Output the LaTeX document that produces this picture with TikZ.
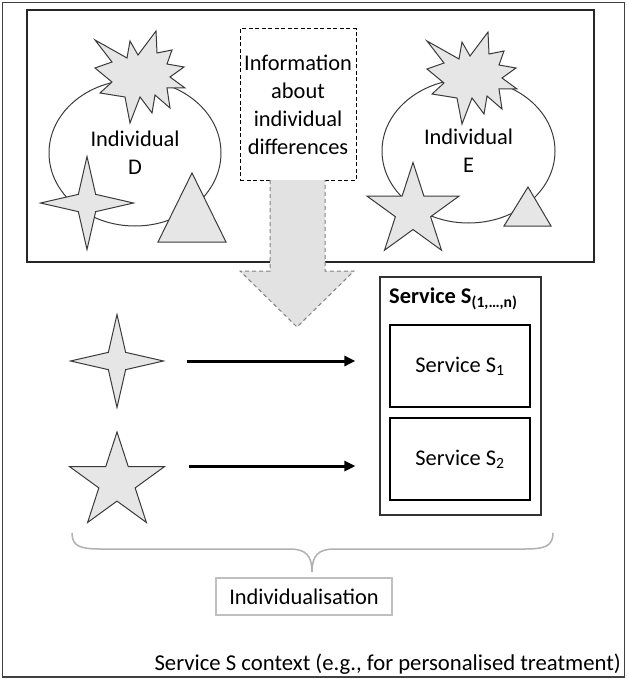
\documentclass[tikz,border=0pt]{standalone}
\usepackage{fontspec}
\setmainfont{Carlito}
\usetikzlibrary{shapes.geometric,arrows.meta}
\definecolor{shapefill}{HTML}{E6E6E6}
\definecolor{edgegray}{HTML}{3A3A3A}
\definecolor{bracegray}{HTML}{B0B0B0}
\definecolor{arrowfill}{HTML}{E2E2E2}
\definecolor{arrowedge}{HTML}{808080}
\begin{document}
\begin{tikzpicture}[x=1pt,y=-1pt,
  txt/.style={font=\fontsize{22.4}{28}\selectfont, inner sep=0pt, align=center},
  blob/.style={fill=shapefill, draw=edgegray, line width=1pt, line join=miter},
  starfour/.style={blob, star, star points=4, star point ratio=3.8, inner sep=0pt},
  starfive/.style={blob, star, star points=5, star point ratio=2.618, inner sep=0pt},
  person/.style={ellipse, draw=edgegray, line width=1pt, inner sep=0pt, txt},
  plainbox/.style={draw=black, line width=1.2pt, inner sep=0pt},
  thickarrow/.style={line width=3pt, -{Triangle[length=11pt,width=10pt]}}
]
\useasboundingbox (0,0) rectangle (627,679);
% outer frame
\draw[black!75, line width=1.5pt] (2.5,2.5) rectangle (624.5,677);
% top box
\node[draw=black!85, line width=1.3pt, minimum width=567pt, minimum height=252pt, inner sep=0pt] (topbox) at (310.5,136) {};

% individual D
\node[person, minimum width=172pt, minimum height=146pt] (indD) at (135,153) {Individual\\D};
\draw[blob] (95,40) -- (127,58) -- (130,41) -- (138,55) -- (156,31) -- (157,53) -- (172,50) -- (167,64)
  -- (184,67) -- (170,77) -- (185,88) -- (167,88) -- (170,108) -- (155,95) -- (152,113) -- (140,97)
  -- (130,123) -- (125,97) -- (100,93) -- (112,82) -- (95,68) -- (112,62) -- cycle;
\draw[blob] (192,173) -- (226,242) -- (158,242) -- cycle;
\node[starfour, minimum size=93pt] (s4a) at (87,203) {};

% individual E
\node[person, minimum width=173pt, minimum height=144pt] (indE) at (468.5,151) {Individual\\E};
\begin{scope}[shift={(332,1)}]
\draw[blob] (95,40) -- (127,58) -- (130,41) -- (138,55) -- (156,31) -- (157,53) -- (172,50) -- (167,64)
  -- (184,67) -- (170,77) -- (185,88) -- (167,88) -- (170,108) -- (155,95) -- (152,113) -- (140,97)
  -- (130,123) -- (125,97) -- (100,93) -- (112,82) -- (95,68) -- (112,62) -- cycle;
\end{scope}
\draw[blob] (528,187) -- (551,226) -- (504,226) -- cycle;
\node[starfive, minimum size=97pt] (s5a) at (413,211) {};

% information box
\node[draw=black, dashed, dash pattern=on 4pt off 2.5pt, line width=1pt, minimum width=116pt, minimum height=151pt, txt] (info) at (298,104.5) {Information\\about\\individual\\differences};

% block arrow
\fill[arrowfill] (270,180) -- (270,271) -- (240,271) -- (297,327) -- (354,271) -- (325,271) -- (325,180) -- cycle;
\draw[arrowedge, line width=1pt, dash pattern=on 4pt off 3pt] (270,180) -- (270,271) -- (240,271) -- (297,327) -- (354,271) -- (325,271) -- (325,180);

% service boxes
\node[draw=black!80, line width=1.2pt, minimum width=161pt, minimum height=238pt, inner sep=0pt] (svc) at (460.5,396) {};
\node[txt, anchor=west, font=\fontsize{22.4}{28}\selectfont\bfseries] (svct) at (389,299) {Service S\textsubscript{(1,…,n)}};
\node[plainbox, minimum width=140pt, minimum height=82pt, txt] (sv1) at (460,366) {Service S\textsubscript{1}};
\node[plainbox, minimum width=140pt, minimum height=82pt, txt] (sv2) at (460,459) {Service S\textsubscript{2}};

% lower stars
\node[starfour, minimum size=93pt] (s4b) at (117,361) {};
\node[starfive, minimum size=100pt] (s5b) at (117,482) {};

% arrows
\draw[thickarrow, shorten <=21pt, shorten >=24pt] (s4b.east) -- (s4b.east -| svc.west);
\draw[thickarrow, shorten <=23pt, shorten >=24pt] (s5b.outer point 5) -- (s5b.outer point 5 -| svc.west);

% brace
\draw[bracegray, line width=1.5pt] (72,533) .. controls (72,546) and (80,549) .. (100,549) -- (290,549)
  .. controls (306,549) and (312,556) .. (312,572)
  .. controls (312,556) and (318,549) .. (334,549) -- (525,549)
  .. controls (545,549) and (553,546) .. (553,533);
\node[txt, draw=black!25, line width=1.2pt, minimum width=176pt, minimum height=37pt] (indiv) at (304,596.5) {Individualisation};

% context caption
\node[txt, anchor=base east, font=\fontsize{22.7}{28}\selectfont] (ctx) at (621,670) {Service S context (e.g., for personalised treatment)};
\end{tikzpicture}
\end{document}
